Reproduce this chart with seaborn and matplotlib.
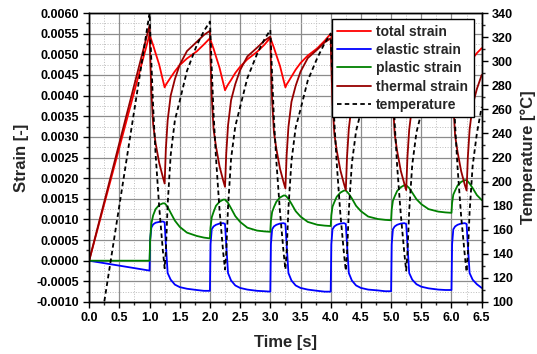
import numpy as np
import pandas as pd
import seaborn as sns
import matplotlib.pyplot as plt
from matplotlib.ticker import MultipleLocator, FormatStrFormatter

# time [s]
time = [0.0,
        1.0, 1.01, 1.03, 1.06, 1.1, 1.16, 1.22, 1.25, 1.27, 1.3, 1.35, 1.42, 1.5, 1.62, 1.78, 1.9,
        2.0, 2.01, 2.03, 2.06, 2.1, 2.16, 2.22, 2.25, 2.27, 2.3, 2.35, 2.42, 2.5, 2.62, 2.78, 2.9,
        3.0, 3.01, 3.03, 3.06, 3.1, 3.16, 3.22, 3.25, 3.27, 3.3, 3.35, 3.42, 3.5, 3.62, 3.78, 3.9,
        4.0, 4.01, 4.03, 4.06, 4.1, 4.16, 4.22, 4.25, 4.27, 4.3, 4.35, 4.42, 4.5, 4.62, 4.78, 4.9,
        5.0, 5.01, 5.03, 5.06, 5.1, 5.16, 5.22, 5.25, 5.27, 5.3, 5.35, 5.42, 5.5, 5.62, 5.78, 5.9,
        6.0, 6.01, 6.03, 6.06, 6.1, 6.16, 6.22, 6.25, 6.27, 6.3, 6.35, 6.42, 6.5]

total_strain = [0.0,
                0.00548, 0.00544, 0.00535, 0.00522, 0.00503, 0.00475, 0.00438, 0.0042, 0.00426, 0.00433, 0.00444, 0.00459, 0.00474, 0.0049, 0.00507, 0.00524,
                0.00539, 0.00535, 0.00526, 0.00514, 0.00495, 0.00467, 0.00431, 0.00413, 0.00419, 0.00427, 0.00438, 0.00455, 0.0047, 0.00488, 0.00506, 0.00523,
                0.0054, 0.00536, 0.00528, 0.00516, 0.00498, 0.00472, 0.00437, 0.0042, 0.00427, 0.00434, 0.00446, 0.00463, 0.00479, 0.00497, 0.00515, 0.00533,
                0.0055, 0.00546, 0.00538, 0.00526, 0.00508, 0.00482, 0.00447, 0.0043, 0.00437, 0.00444, 0.00456, 0.00473, 0.00489, 0.00507, 0.00525, 0.00543,
                0.0056, 0.00557, 0.00549, 0.00538, 0.00522, 0.00497, 0.00465, 0.0045, 0.00456, 0.00463, 0.00474, 0.0049, 0.00504, 0.00521, 0.00538, 0.00554,
                0.0057, 0.00567, 0.0056, 0.0055, 0.00535, 0.00513, 0.00484, 0.0047, 0.00475, 0.00481, 0.0049, 0.00503, 0.00515]

elastic_strain = [0.0,
                  -0.00024, 0.0005, 0.0008, 0.00088, 0.00092, 0.00094, 0.00095, 0.00093, 0.0004, -0.0003, -0.00046, -0.00058, -0.00064, -0.00068, -0.00071, -0.00073,
                  -0.00073, 0.0004, 0.00076, 0.00083, 0.00087, 0.0009, 0.00091, 0.00089, 0.0004, -0.0003, -0.00048, -0.0006, -0.00066, -0.0007, -0.00073, -0.00074,
                  -0.00075, 0.0004, 0.00076, 0.00083, 0.00087, 0.0009, 0.00091, 0.00089, 0.0004, -0.0003, -0.00048, -0.0006, -0.00066, -0.0007, -0.00073, -0.00075,
                  -0.00075, 0.0004, 0.00076, 0.00083, 0.00087, 0.0009, 0.00091, 0.00089, 0.0004, -0.0003, -0.00048, -0.0006, -0.00066, -0.0007, -0.00072, -0.00074,
                  -0.00074, 0.0004, 0.00076, 0.00083, 0.00087, 0.0009, 0.00091, 0.00089, 0.0004, -0.0003, -0.00046, -0.00057, -0.00063, -0.00067, -0.0007, -0.00071,
                  -0.00071, 0.0004, 0.00076, 0.00083, 0.00087, 0.0009, 0.00091, 0.00089, 0.0004, -0.0003, -0.00046, -0.00057, -0.00066]

plastic_strain = [0.0,
                  0.0, 0.0005, 0.0009, 0.0011, 0.00125, 0.00135, 0.00139, 0.00139, 0.00136, 0.0013, 0.00116, 0.00097, 0.00082, 0.00068, 0.0006, 0.00056,
                  0.00054, 0.0008, 0.00105, 0.00118, 0.00133, 0.00143, 0.00148, 0.00148, 0.00145, 0.0014, 0.00127, 0.00108, 0.00094, 0.0008, 0.00073, 0.00071,
                  0.0007, 0.00096, 0.00118, 0.0013, 0.00143, 0.00153, 0.00158, 0.00158, 0.00155, 0.0015, 0.00138, 0.0012, 0.00107, 0.00094, 0.00087, 0.00085,
                  0.00084, 0.0011, 0.00131, 0.00142, 0.00155, 0.00165, 0.0017, 0.0017, 0.00167, 0.00162, 0.00151, 0.00133, 0.0012, 0.00107, 0.00101, 0.00099,
                  0.00098, 0.00124, 0.00145, 0.00156, 0.00169, 0.00178, 0.00183, 0.00183, 0.0018, 0.00176, 0.00165, 0.00149, 0.00137, 0.00125, 0.00119, 0.00117,
                  0.00116, 0.0014, 0.0016, 0.0017, 0.00182, 0.00191, 0.00195, 0.00195, 0.00192, 0.00187, 0.00176, 0.00159, 0.00147]

thermal_strain = [0.0,
                  0.0057, 0.0050, 0.0041, 0.0033, 0.00285, 0.00237, 0.00203, 0.00187, 0.0027, 0.0034, 0.0040, 0.0044, 0.00475, 0.00508, 0.0053, 0.00547,
                  0.00557, 0.00489, 0.00398, 0.00319, 0.00277, 0.00228, 0.00194, 0.00179, 0.00259, 0.00328, 0.00389, 0.00428, 0.00462, 0.00495, 0.00516, 0.00533,
                  0.00543, 0.00477, 0.00388, 0.00311, 0.00271, 0.00223, 0.0019, 0.00175, 0.00255, 0.00324, 0.00385, 0.00424, 0.00458, 0.00491, 0.00512, 0.00529,
                  0.00539, 0.00473, 0.00384, 0.00307, 0.00267, 0.00219, 0.00186, 0.00171, 0.00251, 0.0032, 0.00381, 0.0042, 0.00454, 0.00487, 0.00508, 0.00525,
                  0.00535, 0.00469, 0.00382, 0.00306, 0.00266, 0.00218, 0.00186, 0.00171, 0.0025, 0.00318, 0.00378, 0.00417, 0.0045, 0.00483, 0.00504, 0.0052,
                  0.0053, 0.00465, 0.00379, 0.00303, 0.00264, 0.00217, 0.00184, 0.0017, 0.00249, 0.00318, 0.00377, 0.00416, 0.0045]

temperature = [20,
               340, 327, 300, 262, 223, 179, 143, 128, 142, 181, 222, 251, 267, 292, 313, 325,
               333, 321, 294, 257, 220, 176, 141, 127, 141, 179, 219, 246, 262, 286, 306, 318,
               326, 314, 288, 252, 217, 175, 141, 127, 141, 178, 217, 245, 260, 284, 303, 315,
               323, 311, 286, 250, 215, 173, 140, 126, 140, 176, 215, 242, 258, 281, 301, 312,
               320, 308, 283, 248, 213, 173, 140, 126, 140, 176, 214, 241, 257, 280, 299, 310,
               318, 306, 281, 247, 212, 171, 139, 125, 139, 175, 213, 240, 262]

df = pd.DataFrame({"time": time, "total": total_strain, "elastic": elastic_strain,
                   "plastic": plastic_strain, "thermal": thermal_strain, "temp": temperature})

sns.set_style("ticks")
plt.rcParams["font.family"] = ["Liberation Sans", "DejaVu Sans"]
plt.rcParams["font.weight"] = "bold"

fig = plt.figure(figsize=(5.37, 3.54), dpi=100)
ax = fig.add_axes([0.166, 0.147, 0.731, 0.816])
ax2 = ax.twinx()

lw = 1.3
sns.lineplot(data=df, x="time", y="total", ax=ax, color="#FF0000", lw=lw, label="total strain", estimator=None)
sns.lineplot(data=df, x="time", y="elastic", ax=ax, color="#0000FF", lw=lw, label="elastic strain", estimator=None)
sns.lineplot(data=df, x="time", y="plastic", ax=ax, color="#008000", lw=lw, label="plastic strain", estimator=None)
sns.lineplot(data=df, x="time", y="thermal", ax=ax, color="#960000", lw=lw, label="thermal strain", estimator=None)
sns.lineplot(data=df, x="time", y="temp", ax=ax2, color="black", lw=1.3, label="temperature",
             estimator=None, linestyle=(0, (2.5, 1.8)))

ax.set_xlim(0, 6.5)
ax.set_ylim(-0.001, 0.006)
ax2.set_ylim(100, 340)

ax.xaxis.set_major_locator(MultipleLocator(0.5))
ax.xaxis.set_minor_locator(MultipleLocator(0.25))
ax.yaxis.set_major_locator(MultipleLocator(0.0005))
ax.yaxis.set_minor_locator(MultipleLocator(0.00025))
ax.xaxis.set_major_formatter(FormatStrFormatter("%.1f"))
ax.yaxis.set_major_formatter(FormatStrFormatter("%.4f"))
ax2.yaxis.set_major_locator(MultipleLocator(20))
ax2.yaxis.set_minor_locator(MultipleLocator(10))

ax.grid(which="major", color="#8c8c8c", lw=0.9, ls="-")
ax.grid(which="minor", color="#bdbdbd", lw=0.7, ls=":")
ax.set_axisbelow(True)

for a in (ax, ax2):
    a.tick_params(which="major", direction="out", length=4, width=1, labelsize=9, colors="black")
    a.tick_params(which="minor", direction="out", length=2.5, width=1)
    for s in a.spines.values():
        s.set_color("black")
        s.set_linewidth(1)
    for lab in a.get_xticklabels() + a.get_yticklabels():
        lab.set_fontweight("bold")

ax.set_xlabel("Time [s]", fontsize=12, fontweight="bold", labelpad=8)
ax.set_ylabel("Strain [-]", fontsize=12, fontweight="bold", labelpad=5)
ax2.set_ylabel("Temperature [°C]", fontsize=12, fontweight="bold", labelpad=5)

h1, l1 = ax.get_legend_handles_labels()
h2, l2 = ax2.get_legend_handles_labels()
ax.get_legend().remove()
ax2.get_legend().remove()
leg = ax2.legend(h1 + h2, l1 + l2, loc="upper right", bbox_to_anchor=(0.98, 0.978),
                 fontsize=10, frameon=True, fancybox=False, framealpha=1, edgecolor="black",
                 handlelength=2.4, labelspacing=0.3, borderpad=0.4, handletextpad=0.4,
                 borderaxespad=0.0)
leg.get_frame().set_linewidth(1)
for t in leg.get_texts():
    t.set_fontweight("bold")

fig.savefig("out.png", dpi=100)
